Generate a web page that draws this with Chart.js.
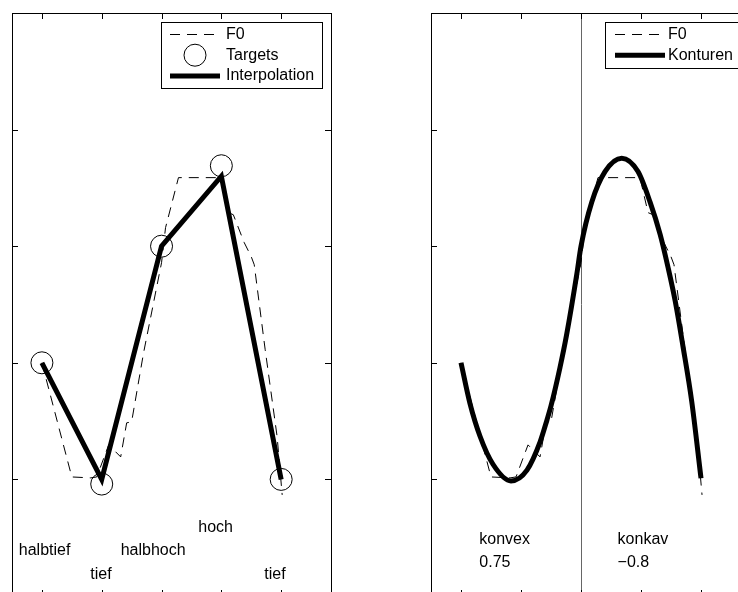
<!DOCTYPE html>
<html>
<head>
<meta charset="utf-8">
<title>F0 Targets / Konturen</title>
<script src="https://cdn.jsdelivr.net/npm/chart.js@4.4.1/dist/chart.umd.min.js"></script>
<style>
    html, body { margin: 0; padding: 0; background: #fff; }
    #wrap { position: relative; width: 738px; height: 592px; overflow: hidden; background: #fff; }
    canvas { position: absolute; top: 0; }
    #leftChart { left: 0; }
    #rightChart { left: 420px; }
</style>
</head>
<body>
<div id="wrap">
    <canvas id="leftChart" width="345" height="610"></canvas>
    <canvas id="rightChart" width="345" height="610"></canvas>
</div>
<script>
// F0 contour (dashed), same in both panels
const f0X = [1.0, 1.5, 1.817, 1.917, 2.117, 2.317, 2.417, 2.5, 2.7, 3.0, 3.067, 3.283,
             3.983, 4.117, 4.2, 4.383, 4.5, 4.55, 4.733, 4.933, 5.017];
const f0Y = [2.0, 1.021, 1.013, 1.021, 1.296, 1.193, 1.485, 1.494, 2.086, 2.858, 3.159, 3.588,
             3.588, 3.288, 3.27, 3.03, 2.91, 2.841, 2.112, 1.365, 0.867];

// left panel: targets and linear interpolation
const targetX = [1, 2, 3, 4, 5];
const targetY = [2.0, 0.96, 3.0, 3.69, 1.0];
const interpY = [2.0, 1.0, 3.0, 3.6, 1.0];
const targetNames = ['halbtief', 'tief', 'halbhoch', 'hoch', 'tief'];
const targetNameX = [1.045, 1.987, 2.86, 3.905, 4.897];
const targetNameY = [0.35, 0.15, 0.35, 0.55, 0.15];

// right panel: shaped contour
const contourX = [1.0, 1.15, 1.317, 1.533, 1.833, 2.1, 2.317, 2.433, 2.5, 2.65, 2.76, 2.93, 3.0,
                  3.18, 3.4, 3.68, 3.95, 4.15, 4.32, 4.45, 4.57, 4.7, 4.845, 5.0];
const contourY = [2.0, 1.65, 1.37, 1.13, 0.987, 1.08, 1.32, 1.51, 1.63, 1.96, 2.24, 2.76, 3.0,
                  3.38, 3.64, 3.755, 3.64, 3.38, 3.10, 2.82, 2.53, 2.14, 1.67, 1.01];
const shapeNames = ['konvex', 'konkav'];
const shapeValues = ['0.75', '\u22120.8'];
const shapeX = [1.305, 3.61];
const shapeY = [0.45, 0.25];
const boundaryX = 3;

const xTicks = [1, 2, 3, 4, 5];
const yTicks = [1, 2, 3, 4];

const FONT = '16px "Liberation Sans", Arial, sans-serif';

function pts(xs, ys) {
    return xs.map((x, i) => ({ x: x, y: ys[i] }));
}

// Box with inward ticks, drawn on top of the data
const frameBox = {
    id: 'frameBox',
    beforeDatasetsDraw(chart, args, opts) {
        if (opts.boundary === undefined) return;
        const { ctx, chartArea: a, scales: { x } } = chart;
        const px = Math.round(x.getPixelForValue(opts.boundary)) + 0.5;
        ctx.save();
        ctx.strokeStyle = '#666';
        ctx.lineWidth = 1;
        ctx.beginPath();
        ctx.moveTo(px, a.top);
        ctx.lineTo(px, a.bottom);
        ctx.stroke();
        ctx.restore();
    },
    afterDatasetsDraw(chart) {
        const { ctx, chartArea: a, scales: { x, y } } = chart;
        const len = 6;
        ctx.save();
        ctx.strokeStyle = '#000';
        ctx.lineWidth = 1;
        ctx.beginPath();
        xTicks.forEach(v => {
            const px = Math.round(x.getPixelForValue(v)) + 0.5;
            ctx.moveTo(px, a.top); ctx.lineTo(px, a.top + len);
            ctx.moveTo(px, a.bottom); ctx.lineTo(px, a.bottom - len);
        });
        yTicks.forEach(v => {
            const py = Math.round(y.getPixelForValue(v)) + 0.5;
            ctx.moveTo(a.left, py); ctx.lineTo(a.left + len, py);
            ctx.moveTo(a.right, py); ctx.lineTo(a.right - len, py);
        });
        ctx.stroke();
        ctx.strokeRect(a.left + 0.5, a.top + 0.5, a.right - a.left, a.bottom - a.top);
        ctx.restore();
    }
};

// Text notes placed in data coordinates
const textNotes = {
    id: 'textNotes',
    afterDatasetsDraw(chart, args, opts) {
        const { ctx, scales: { x, y } } = chart;
        ctx.save();
        ctx.font = FONT;
        ctx.fillStyle = '#000';
        ctx.textBaseline = 'alphabetic';
        (opts.notes || []).forEach(n => {
            ctx.textAlign = n.align || 'center';
            ctx.fillText(n.text, x.getPixelForValue(n.x), y.getPixelForValue(n.y));
        });
        ctx.restore();
    }
};

// MATLAB-like legend box
const legendBox = {
    id: 'legendBox',
    afterDraw(chart, args, opts) {
        const ctx = chart.ctx;
        const b = opts.box;
        ctx.save();
        ctx.fillStyle = '#fff';
        ctx.fillRect(b.left, b.top, b.right - b.left, b.bottom - b.top);
        ctx.strokeStyle = '#000';
        ctx.lineWidth = 1;
        ctx.strokeRect(b.left + 0.5, b.top + 0.5, b.right - b.left, b.bottom - b.top);
        ctx.font = FONT;
        ctx.textBaseline = 'middle';
        ctx.textAlign = 'left';
        chart.data.datasets.forEach((ds, i) => {
            const rowY = b.firstRow + i * b.rowStep;
            ctx.strokeStyle = '#000';
            ctx.setLineDash([]);
            if (ds.showLine === false) {
                ctx.lineWidth = 1;
                ctx.beginPath();
                ctx.arc((b.sampleLeft + b.sampleRight) / 2, rowY, ds.pointRadius, 0, Math.PI * 2);
                ctx.stroke();
            } else {
                ctx.lineWidth = ds.borderWidth;
                ctx.setLineDash(ds.borderDash || []);
                ctx.beginPath();
                ctx.moveTo(b.sampleLeft, rowY);
                ctx.lineTo(b.sampleRight, rowY);
                ctx.stroke();
            }
            ctx.setLineDash([]);
            ctx.fillStyle = '#000';
            ctx.fillText(ds.label, b.textLeft, rowY);
        });
        ctx.restore();
    }
};

function baseOptions(extra) {
    return {
        responsive: false,
        animation: false,
        layout: { padding: { left: 11, top: 13, right: 14, bottom: 14 } },
        scales: {
            x: { type: 'linear', min: 0.5, max: 5.8333, display: false },
            y: { type: 'linear', min: 0, max: 5, display: false }
        },
        plugins: Object.assign({
            legend: { display: false },
            tooltip: { enabled: false }
        }, extra)
    };
}

const f0Dataset = () => ({
    label: 'F0',
    data: pts(f0X, f0Y),
    borderColor: '#000',
    borderWidth: 1,
    borderDash: [10, 7],
    pointRadius: 0,
    tension: 0,
    order: 3
});

// Left panel
new Chart(document.getElementById('leftChart').getContext('2d'), {
    type: 'line',
    data: {
        datasets: [
            f0Dataset(),
            {
                label: 'Targets',
                data: pts(targetX, targetY),
                showLine: false,
                pointRadius: 11,
                pointBorderWidth: 1,
                pointBorderColor: '#000',
                pointBackgroundColor: 'rgba(0,0,0,0)',
                order: 2
            },
            {
                label: 'Interpolation',
                data: pts(targetX, interpY),
                borderColor: '#000',
                borderWidth: 5,
                borderJoinStyle: 'miter',
                pointRadius: 0,
                order: 1
            }
        ]
    },
    options: baseOptions({
        frameBox: {},
        textNotes: {
            notes: targetNames.map((t, i) => ({ text: t, x: targetNameX[i], y: targetNameY[i] }))
        },
        legendBox: {
            box: { left: 161, top: 22, right: 322, bottom: 88,
                   firstRow: 34.5, rowStep: 20.7, sampleLeft: 170, sampleRight: 220, textLeft: 226 }
        }
    }),
    plugins: [frameBox, textNotes, legendBox]
});

// Right panel
const shapeNotes = [];
shapeNames.forEach((t, i) => {
    shapeNotes.push({ text: t, x: shapeX[i], y: shapeY[0], align: 'left' });
    shapeNotes.push({ text: shapeValues[i], x: shapeX[i], y: shapeY[1], align: 'left' });
});

new Chart(document.getElementById('rightChart').getContext('2d'), {
    type: 'line',
    data: {
        datasets: [
            f0Dataset(),
            {
                label: 'Konturen',
                data: pts(contourX, contourY),
                borderColor: '#000',
                borderWidth: 5,
                cubicInterpolationMode: 'monotone',
                pointRadius: 0,
                order: 1
            }
        ]
    },
    options: baseOptions({
        frameBox: { boundary: boundaryX },
        textNotes: { notes: shapeNotes },
        legendBox: {
            box: { left: 185, top: 22, right: 320, bottom: 68,
                   firstRow: 34.5, rowStep: 20.7, sampleLeft: 195, sampleRight: 245, textLeft: 248 }
        }
    }),
    plugins: [frameBox, textNotes, legendBox]
});
</script>
</body>
</html>
